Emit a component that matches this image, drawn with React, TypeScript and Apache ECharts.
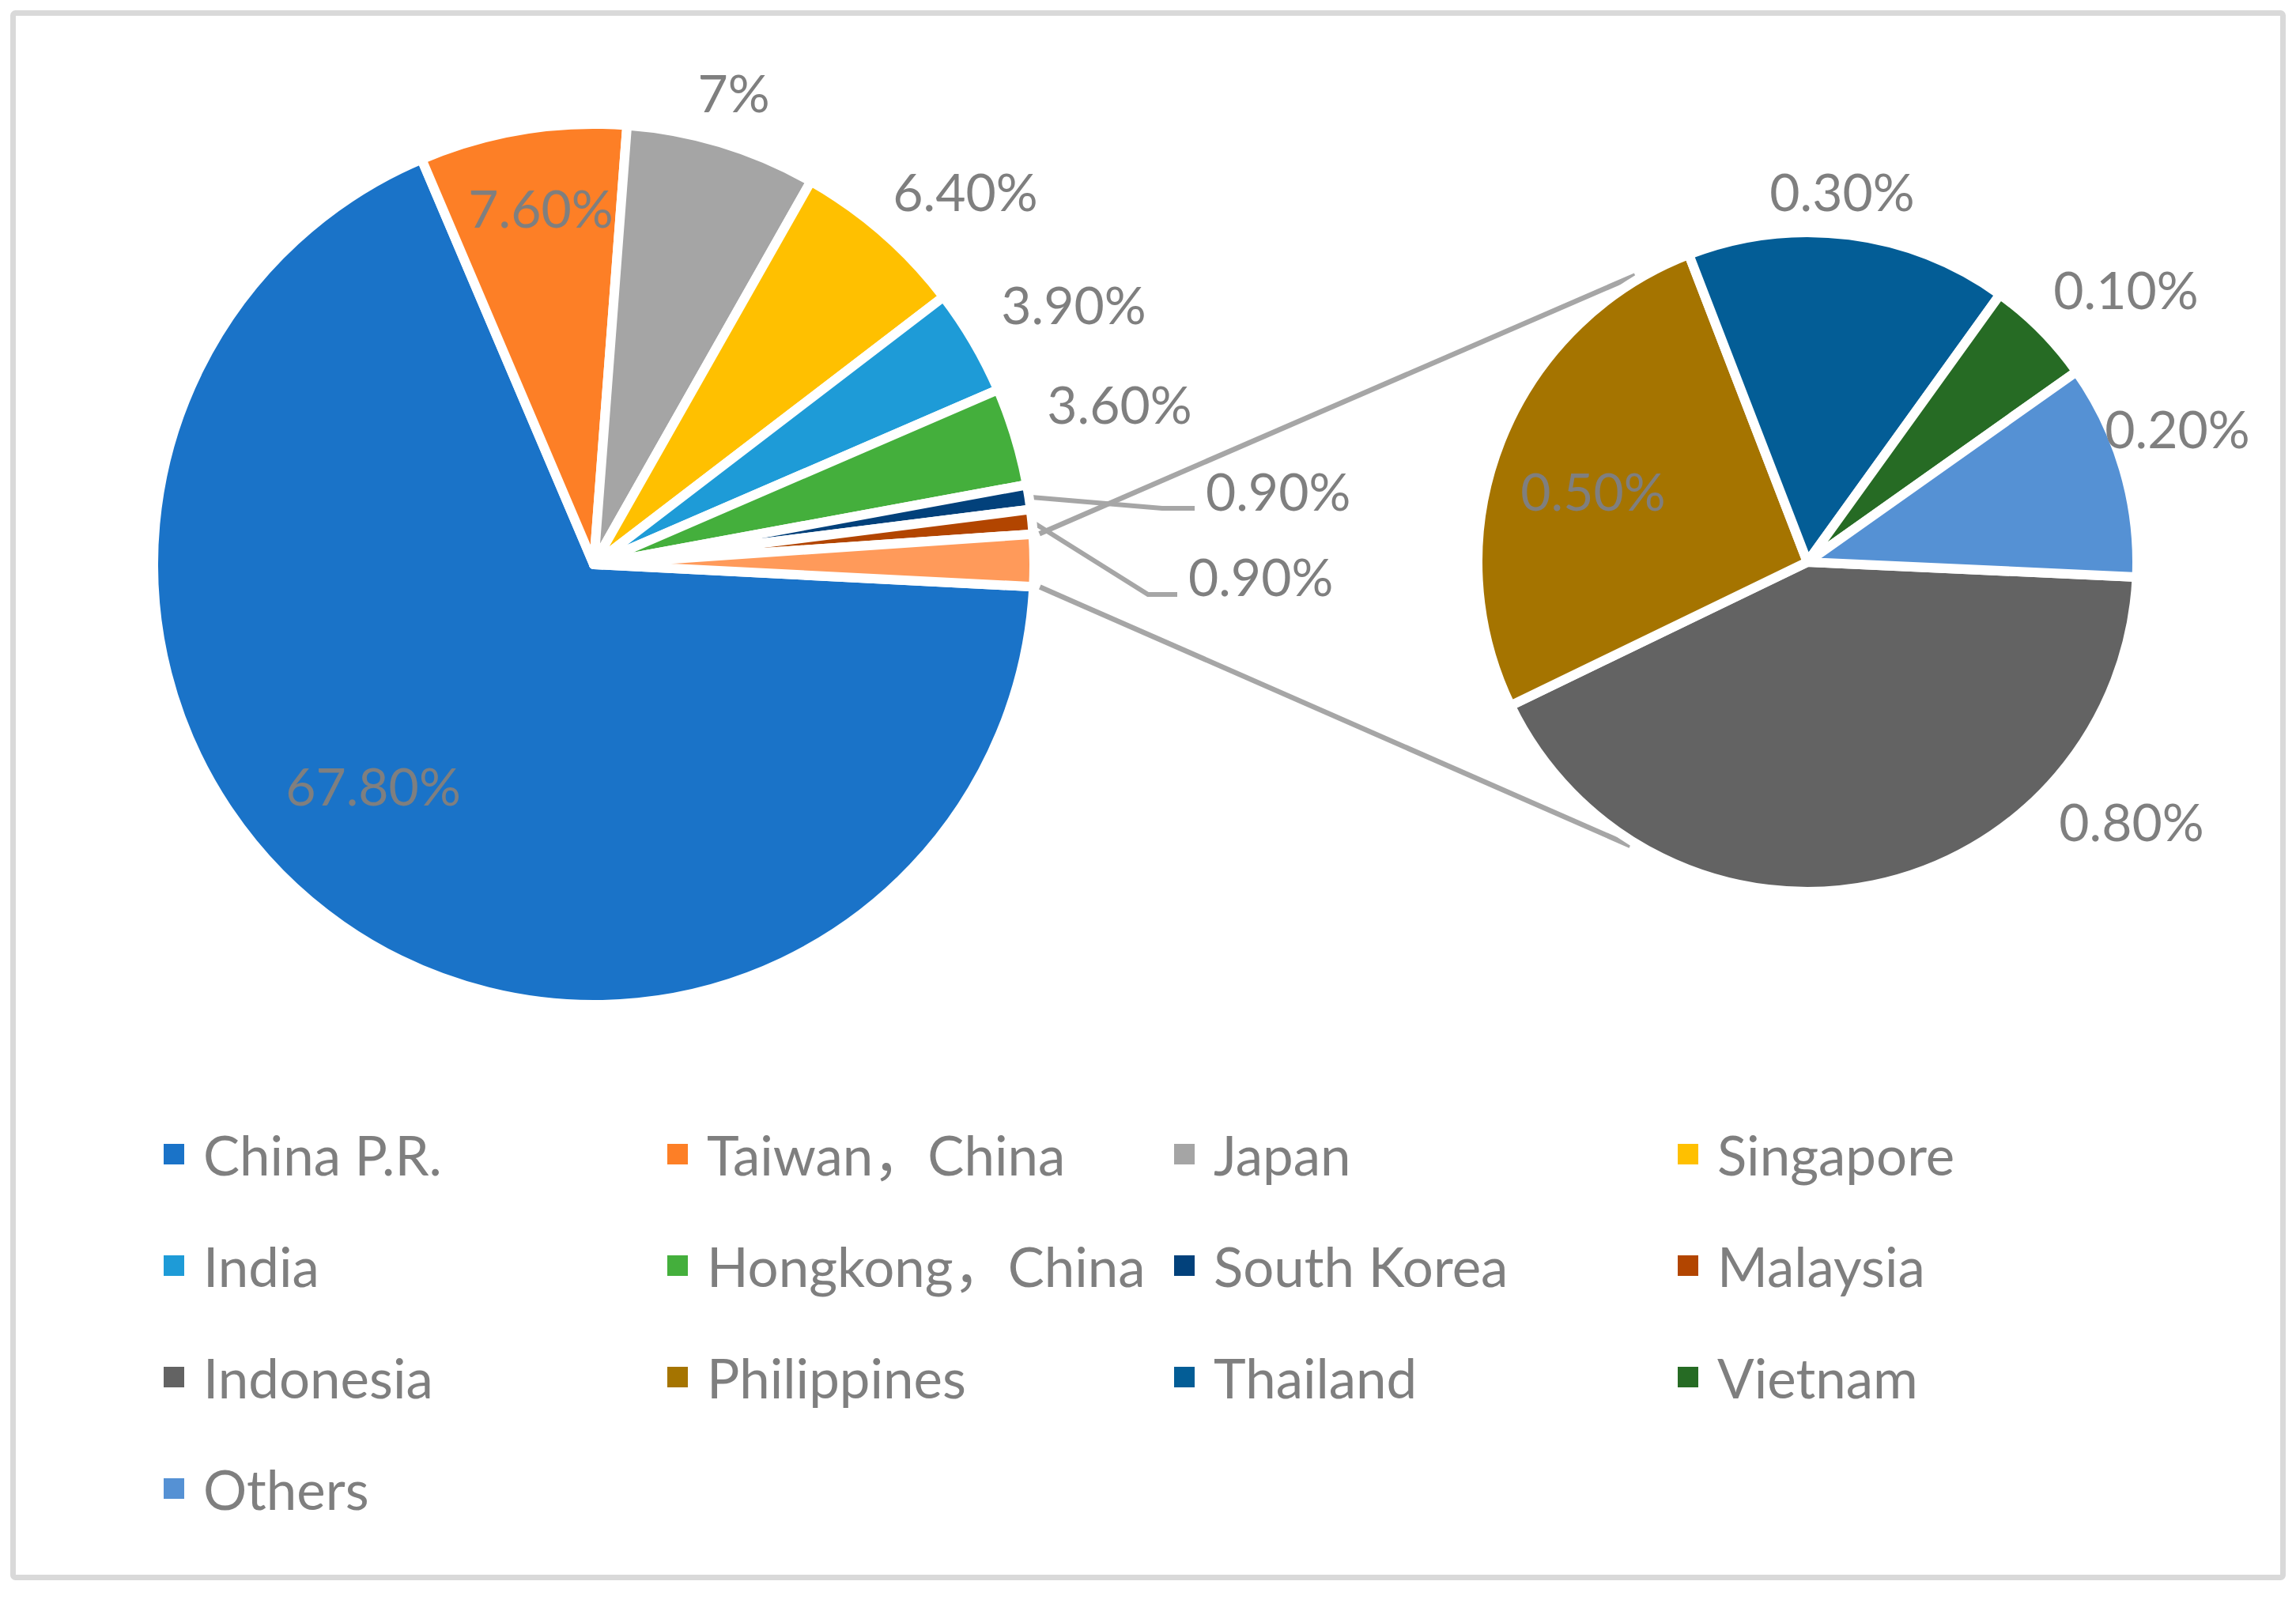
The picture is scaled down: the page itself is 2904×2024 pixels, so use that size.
import React, { useEffect, useRef } from "react";
import * as echarts from "echarts";

// ---- data ----
const mainCategories = ["China P.R.", "Taiwan，China", "Japan", "Singapore", "India", "Hongkong，China", "South Korea", "Malaysia"];
const mainValues = [67.8, 7.6, 7.0, 6.4, 3.9, 3.6, 0.9, 0.9];
const mainLabels = ["67.80%", "7.60%", "7%", "6.40%", "3.90%", "3.60%", "0.90%", "0.90%"];
const subCategories = ["Indonesia", "Philippines", "Thailand", "Vietnam", "Others"];
const subValues = [0.8, 0.5, 0.3, 0.1, 0.2];
const subLabels = ["0.80%", "0.50%", "0.30%", "0.10%", "0.20%"];
const otherName = "Other";
const legendOrder = ["China P.R.", "Taiwan，China", "Japan", "Singapore", "India", "Hongkong，China", "South Korea", "Malaysia", "Indonesia", "Philippines", "Thailand", "Vietnam", "Others"];

// ---- styles ----
const mainColors = ["#1a73c8", "#fd7f26", "#a5a5a5", "#ffc000", "#1e9bd7", "#44af3c", "#02417b", "#b24500", "#ff9a5a"];
const subColors = ["#636363", "#a57400", "#035d96", "#266b24", "#5591d4"];
const FONT = "Lato, 'Noto Sans CJK SC', sans-serif";
const TEXT = "#7f7f7f";
const LINE = "#a6a6a6";
const FS = 66;
const LFS = 69;

// ---- layout ----
const W = 2904, H = 2024;
const leftC = [751, 714];
const leftR = 551; // visible radius
const rightC = [2286, 711];
const rightR = 411;
const BW = 12; // white border between slices
const leftStart = -2.9;
const rightStart = -2.6;
// label centres (or left/centre for leader-line labels)
const mainLabelPos: [number, number, string][] = [
  [472, 993, "center"], [684, 262, "center"], [928, 116, "center"], [1221, 241, "center"],
  [1358, 384, "center"], [1416, 510, "center"], [1525, 620, "left"], [1503, 728, "left"],
];
const mainLeader: Record<number, [number, number][]> = {
  6: [[1470, 643], [1511, 643]],
  7: [[1452, 752], [1489, 752]],
};
const subLabelPos: [number, number][] = [[2696, 1038], [2015, 620], [2330, 241], [2689, 365], [2754, 541]];
const legendColX = [205, 842, 1483, 2120];

export default function App() {
  const ref = useRef<HTMLDivElement>(null);
  useEffect(() => {
    if (!ref.current) return;
    const chart = echarts.init(ref.current, null, { renderer: "svg" });
    const otherValue = subValues.reduce((a, b) => a + b, 0);
    const mainTotal = mainValues.reduce((a, b) => a + b, 0) + otherValue;
    const rad = Math.PI / 180;
    const otherTop = leftStart + (otherValue / mainTotal) * 360;
    const gap = 14;
    const p = (c: number[], r: number, a: number) => [c[0] + r * Math.cos(a * rad), c[1] - r * Math.sin(a * rad)];
    const u1 = p(leftC, leftR + gap, otherTop);
    const l1 = p(leftC, leftR + gap, leftStart);
    const u2 = p(rightC, rightR + 12, 121);
    const l2 = p(rightC, rightR + 12, 238);

    const labelBase = { show: true, color: TEXT, fontSize: FS, fontFamily: FONT, position: "outside" as const };

    const mainData = mainCategories.map((n, i) => ({
      name: n,
      value: mainValues[i],
      itemStyle: { color: mainColors[i] },
      labelLine: mainLeader[i] ? { show: true, lineStyle: { color: LINE, width: 6 } } : { show: false },
    }));
    mainData.push({
      name: otherName,
      value: otherValue,
      itemStyle: { color: mainColors[8] },
      labelLine: { show: false },
      label: { show: false },
    } as any);

    const option: any = {
      animation: false,
      backgroundColor: "#ffffff",
      legend: [0, 1, 2, 3].map((c) => ({
        orient: "vertical",
        left: legendColX[c],
        top: 1420,
        padding: 0,
        itemGap: 61,
        itemWidth: 28,
        itemHeight: 28,
        icon: "rect",
        selectedMode: false,
        data: legendOrder.filter((_, i) => i % 4 === c),
        textStyle: { color: TEXT, fontSize: LFS, fontFamily: FONT, lineHeight: 80, padding: [0, 0, 0, 18] },
      })),
      graphic: [
        {
          type: "rect",
          shape: { x: 16.5, y: 16.5, width: 2871, height: 1979, r: 3 },
          style: { fill: "none", stroke: "#d9d9d9", lineWidth: 7 },
          z: 0,
        },
        { type: "line", shape: { x1: u1[0], y1: u1[1], x2: u2[0], y2: u2[1] }, style: { stroke: LINE, lineWidth: 6.5 } },
        { type: "line", shape: { x1: l1[0], y1: l1[1], x2: l2[0], y2: l2[1] }, style: { stroke: LINE, lineWidth: 6.5 } },
      ],
      series: [
        {
          type: "pie",
          center: leftC,
          radius: leftR + BW / 2,
          startAngle: leftStart,
          clockwise: true,
          avoidLabelOverlap: false,
          minShowLabelAngle: 0,
          itemStyle: { borderColor: "#ffffff", borderWidth: BW },
          label: { ...labelBase, formatter: (q: any) => mainLabels[q.dataIndex] ?? "" },
          labelLine: { show: false, length: 10, length2: 10 },
          emphasis: { disabled: true },
          data: mainData,
          labelLayout: (q: any) => {
            const pos = mainLabelPos[q.dataIndex];
            if (!pos) return {};
            const res: any = { x: pos[0], y: pos[1], align: pos[2], verticalAlign: "middle" };
            const lead = mainLeader[q.dataIndex];
            if (lead && q.labelLinePoints) {
              res.labelLinePoints = [q.labelLinePoints[0], lead[0], lead[1]];
            }
            return res;
          },
        },
        {
          type: "pie",
          center: rightC,
          radius: rightR + BW / 2,
          startAngle: rightStart,
          clockwise: true,
          avoidLabelOverlap: false,
          minShowLabelAngle: 0,
          itemStyle: { borderColor: "#ffffff", borderWidth: BW },
          label: { ...labelBase, formatter: (q: any) => subLabels[q.dataIndex] },
          labelLine: { show: false },
          emphasis: { disabled: true },
          data: subCategories.map((n, i) => ({ name: n, value: subValues[i], itemStyle: { color: subColors[i] } })),
          labelLayout: (q: any) => {
            const pos = subLabelPos[q.dataIndex];
            return { x: pos[0], y: pos[1], align: "center", verticalAlign: "middle" };
          },
        },
      ],
    };
    chart.setOption(option);
    return () => chart.dispose();
  }, []);
  return <div ref={ref} style={{ position: "absolute", left: 0, top: 0, width: W, height: H }} />;
}
